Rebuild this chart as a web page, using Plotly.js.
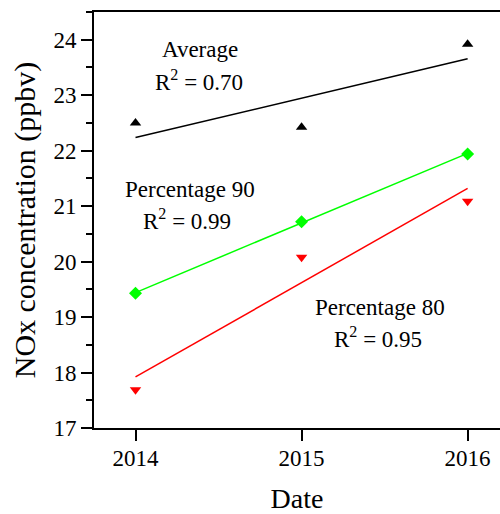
<!DOCTYPE html>
<html>
<head>
<meta charset="utf-8">
<script src="https://cdn.plot.ly/plotly-3.0.1.min.js"></script>
<style>
html,body{margin:0;padding:0;background:#fff;}
#chart{width:500px;height:514px;}
</style>
</head>
<body>
<div id="chart"></div>
<script>
const years = [2014, 2015, 2016];
const averageVals = [22.50, 22.42, 23.92];
const p90Vals = [19.43, 20.72, 21.94];
const p80Vals = [17.69, 20.08, 21.09];
const tickVals = [2014, 2015, 2016];
const tickText = ['2014', '2015', '2016'];

function fit(xs, ys) {
  const n = xs.length;
  const mx = xs.reduce((a, b) => a + b, 0) / n;
  const my = ys.reduce((a, b) => a + b, 0) / n;
  let sxy = 0, sxx = 0;
  for (let i = 0; i < n; i++) { sxy += (xs[i] - mx) * (ys[i] - my); sxx += (xs[i] - mx) ** 2; }
  const b = sxy / sxx, a = my - b * mx;
  const xe = [xs[0], xs[n - 1]];
  return { x: xe, y: xe.map(v => a + b * v) };
}

const FONT = '"Liberation Serif", "Times New Roman", serif';
const fa = fit(years, averageVals), f90 = fit(years, p90Vals), f80 = fit(years, p80Vals);

const traces = [
  { x: fa.x, y: fa.y, mode: 'lines', line: { color: '#000000', width: 1.5 }, hoverinfo: 'skip' },
  { x: f90.x, y: f90.y, mode: 'lines', line: { color: '#00ff00', width: 1.5 }, hoverinfo: 'skip' },
  { x: f80.x, y: f80.y, mode: 'lines', line: { color: '#ff0000', width: 1.5 }, hoverinfo: 'skip' },
  { x: years, y: averageVals, mode: 'markers', name: 'Average', marker: { symbol: 'triangle-up', size: 10, color: '#000000' } },
  { x: years, y: p90Vals, mode: 'markers', name: 'Percentage 90', marker: { symbol: 'diamond', size: 10, color: '#00ff00' } },
  { x: years, y: p80Vals, mode: 'markers', name: 'Percentage 80', marker: { symbol: 'triangle-down', size: 10, color: '#ff0000' } }
];

const annFont = { family: FONT, size: 23, color: '#000' };
function ann(x, y, text) {
  return { x: x, y: y, xref: 'x', yref: 'y', text: text, showarrow: false, xanchor: 'center', yanchor: 'middle', font: annFont };
}

const layout = {
  width: 500, height: 514,
  margin: { l: 94, r: 0, t: 12, b: 86 },
  paper_bgcolor: '#fff', plot_bgcolor: '#fff',
  showlegend: false,
  font: { family: FONT, color: '#000' },
  xaxis: {
    range: [2013.75, 2016.195],
    tickvals: tickVals, ticktext: tickText,
    ticks: 'outside', ticklen: 11, tickwidth: 2, tickcolor: '#000',
    ticklabelstandoff: -3,
    showline: true, linewidth: 2, linecolor: '#000', mirror: true,
    showgrid: false, zeroline: false,
    tickfont: { family: FONT, size: 23, color: '#000' },
    title: { text: 'Date', font: { family: FONT, size: 28, color: '#000' }, standoff: 19 }
  },
  yaxis: {
    range: [17, 24.5],
    dtick: 1, tick0: 17,
    ticks: 'outside', ticklen: 11, tickwidth: 2, tickcolor: '#000',
    minor: { dtick: 0.5, ticks: 'outside', ticklen: 6, tickwidth: 2, tickcolor: '#000', showgrid: false },
    showline: true, linewidth: 2, linecolor: '#000',
    showgrid: false, zeroline: false,
    tickfont: { family: FONT, size: 23, color: '#000' },
    title: { text: 'NOx concentration (ppbv)', font: { family: FONT, size: 30, color: '#000' }, standoff: 9 }
  },
  annotations: [
    ann(2014.39, 23.82, 'Average'),
    ann(2014.38, 23.27, 'R<sup>2</sup> = 0.70'),
    ann(2014.33, 21.30, 'Percentage 90'),
    ann(2014.31, 20.76, 'R<sup>2</sup> = 0.99'),
    ann(2015.475, 19.17, 'Percentage 80'),
    ann(2015.46, 18.63, 'R<sup>2</sup> = 0.95')
  ]
};

Plotly.newPlot('chart', traces, layout, { displayModeBar: false });
</script>
</body>
</html>
